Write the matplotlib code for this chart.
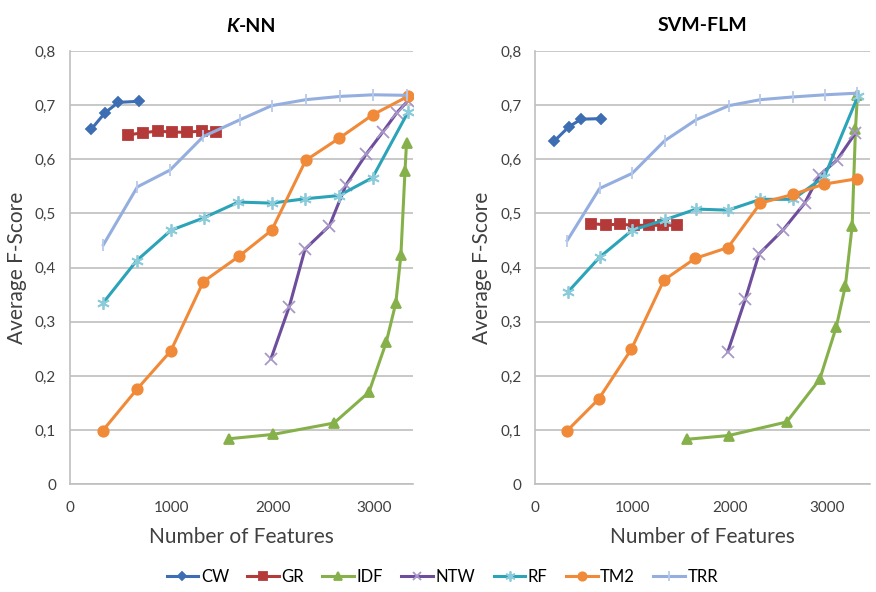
import matplotlib.pyplot as plt
from matplotlib.ticker import FuncFormatter

# ---- K-NN data (number of features, average F-score)
knn_cw_x = [207, 345, 476, 683]
knn_cw_y = [0.655, 0.686, 0.705, 0.707]
knn_gr_x = [574, 722, 864, 1008, 1150, 1297, 1438]
knn_gr_y = [0.645, 0.649, 0.652, 0.650, 0.650, 0.652, 0.650]
knn_idf_x = [1565, 2000, 2600, 2945, 3115, 3210, 3260, 3300, 3315]
knn_idf_y = [0.084, 0.092, 0.113, 0.170, 0.262, 0.335, 0.424, 0.578, 0.630]
knn_ntw_x = [1980, 2160, 2315, 2555, 2720, 2920, 3080, 3220, 3330]
knn_ntw_y = [0.232, 0.328, 0.434, 0.477, 0.553, 0.610, 0.650, 0.686, 0.708]
knn_rf_x = [322, 657, 995, 1320, 1658, 1987, 2315, 2650, 2980, 3333]
knn_rf_y = [0.334, 0.413, 0.469, 0.492, 0.521, 0.519, 0.527, 0.533, 0.566, 0.688]
knn_tm2_x = [322, 657, 992, 1313, 1665, 1987, 2322, 2653, 2982, 3327]
knn_tm2_y = [0.099, 0.175, 0.246, 0.374, 0.421, 0.469, 0.598, 0.639, 0.682, 0.716]
knn_trr_x = [328, 663, 985, 1313, 1675, 1987, 2325, 2660, 2988, 3317]
knn_trr_y = [0.442, 0.549, 0.580, 0.642, 0.673, 0.699, 0.710, 0.716, 0.719, 0.718]

# ---- SVM-FLM data
svm_cw_x = [198, 346, 473, 678]
svm_cw_y = [0.634, 0.660, 0.674, 0.675]
svm_gr_x = [576, 730, 874, 1017, 1172, 1316, 1460]
svm_gr_y = [0.481, 0.479, 0.480, 0.478, 0.478, 0.478, 0.478]
svm_idf_x = [1560, 1990, 2585, 2925, 3094, 3188, 3258, 3292, 3312]
svm_idf_y = [0.083, 0.090, 0.115, 0.194, 0.290, 0.366, 0.477, 0.655, 0.718]
svm_ntw_x = [1980, 2160, 2300, 2550, 2770, 2920, 3100, 3290]
svm_ntw_y = [0.245, 0.342, 0.425, 0.470, 0.519, 0.570, 0.598, 0.648]
svm_rf_x = [336, 661, 997, 1329, 1655, 1981, 2315, 2649, 2973, 3316]
svm_rf_y = [0.355, 0.419, 0.469, 0.488, 0.508, 0.506, 0.526, 0.526, 0.568, 0.716]
svm_tm2_x = [329, 651, 987, 1323, 1644, 1981, 2315, 2649, 2967, 3309]
svm_tm2_y = [0.099, 0.157, 0.249, 0.377, 0.417, 0.437, 0.519, 0.535, 0.554, 0.564]
svm_trr_x = [329, 661, 997, 1329, 1655, 1991, 2315, 2649, 2980, 3309]
svm_trr_y = [0.450, 0.546, 0.574, 0.634, 0.673, 0.699, 0.710, 0.715, 0.719, 0.722]

names = ["CW", "GR", "IDF", "NTW", "RF", "TM2", "TRR"]
colors = ["#3D6DB3", "#B43A3A", "#86B14A", "#6E4E9C", "#2BA3B8", "#F08A38", "#94AEDF"]
marker_colors = ["#3D6DB3", "#B43A3A", "#86B14A", "#A898C8", "#8CCBDA", "#F08A38", "#B8CAEB"]
markers = ["D", "s", "^", "x", (6, 2, 0), "o", "|"]
msizes = [5.5, 6.5, 6.5, 8, 9, 7.5, 9]

plt.rcParams['font.family'] = ['Lato', 'DejaVu Sans']

fig = plt.figure(figsize=(8.76, 5.92), dpi=100)
ax1 = fig.add_axes([0.080, 0.182, 0.391, 0.732])
ax2 = fig.add_axes([0.611, 0.182, 0.382, 0.732])

knn = [(knn_cw_x, knn_cw_y), (knn_gr_x, knn_gr_y), (knn_idf_x, knn_idf_y),
       (knn_ntw_x, knn_ntw_y), (knn_rf_x, knn_rf_y), (knn_tm2_x, knn_tm2_y),
       (knn_trr_x, knn_trr_y)]
svm = [(svm_cw_x, svm_cw_y), (svm_gr_x, svm_gr_y), (svm_idf_x, svm_idf_y),
       (svm_ntw_x, svm_ntw_y), (svm_rf_x, svm_rf_y), (svm_tm2_x, svm_tm2_y),
       (svm_trr_x, svm_trr_y)]

comma = FuncFormatter(lambda v, p: "0" if abs(v) < 1e-9 else ("%.1f" % v).replace(".", ","))

for ax, data, xmax in [(ax1, knn, 3375), (ax2, svm, 3440)]:
    for i, (xs, ys) in enumerate(data):
        ax.plot(xs, ys, color=colors[i], linewidth=2.2, marker=markers[i],
                markersize=msizes[i], markerfacecolor=marker_colors[i],
                markeredgecolor=marker_colors[i], markeredgewidth=1.3,
                label=names[i], zorder=3)
    ax.set_xlim(0, xmax)
    ax.set_ylim(0, 0.8)
    ax.set_xticks([0, 1000, 2000, 3000])
    ax.set_yticks([0, 0.1, 0.2, 0.3, 0.4, 0.5, 0.6, 0.7, 0.8])
    ax.yaxis.set_major_formatter(comma)
    ax.grid(axis="y", color="#BFBFBF", linewidth=1.2)
    ax.set_axisbelow(True)
    for s in ["top", "right"]:
        ax.spines[s].set_visible(False)
    for s in ["left", "bottom"]:
        ax.spines[s].set_color("#BFBFBF")
        ax.spines[s].set_linewidth(1.2)
    ax.tick_params(length=0, labelsize=11, colors="#404040", pad=12)
    ax.tick_params(axis="y", pad=10)
    ax.set_xlabel("Number of Features", fontsize=15, color="#404040", labelpad=9)
    ax.set_ylabel("Average F-Score", fontsize=15, color="#404040", labelpad=6)

fig.text(0.273, 0.955, "K", fontsize=14, fontweight="bold", style="italic", ha="right", va="center")
fig.text(0.273, 0.955, "-NN", fontsize=14, fontweight="bold", ha="left", va="center")
ax2.set_title("SVM-FLM", fontsize=14, fontweight="bold", pad=14)

handles, labels = ax1.get_legend_handles_labels()
fig.legend(handles, labels, loc="center", bbox_to_anchor=(0.505, 0.025), ncol=7,
           frameon=False, fontsize=12, handlelength=1.9, columnspacing=1.1,
           handletextpad=0.15, markerscale=0.8)

fig.savefig("out.png", dpi=100)
